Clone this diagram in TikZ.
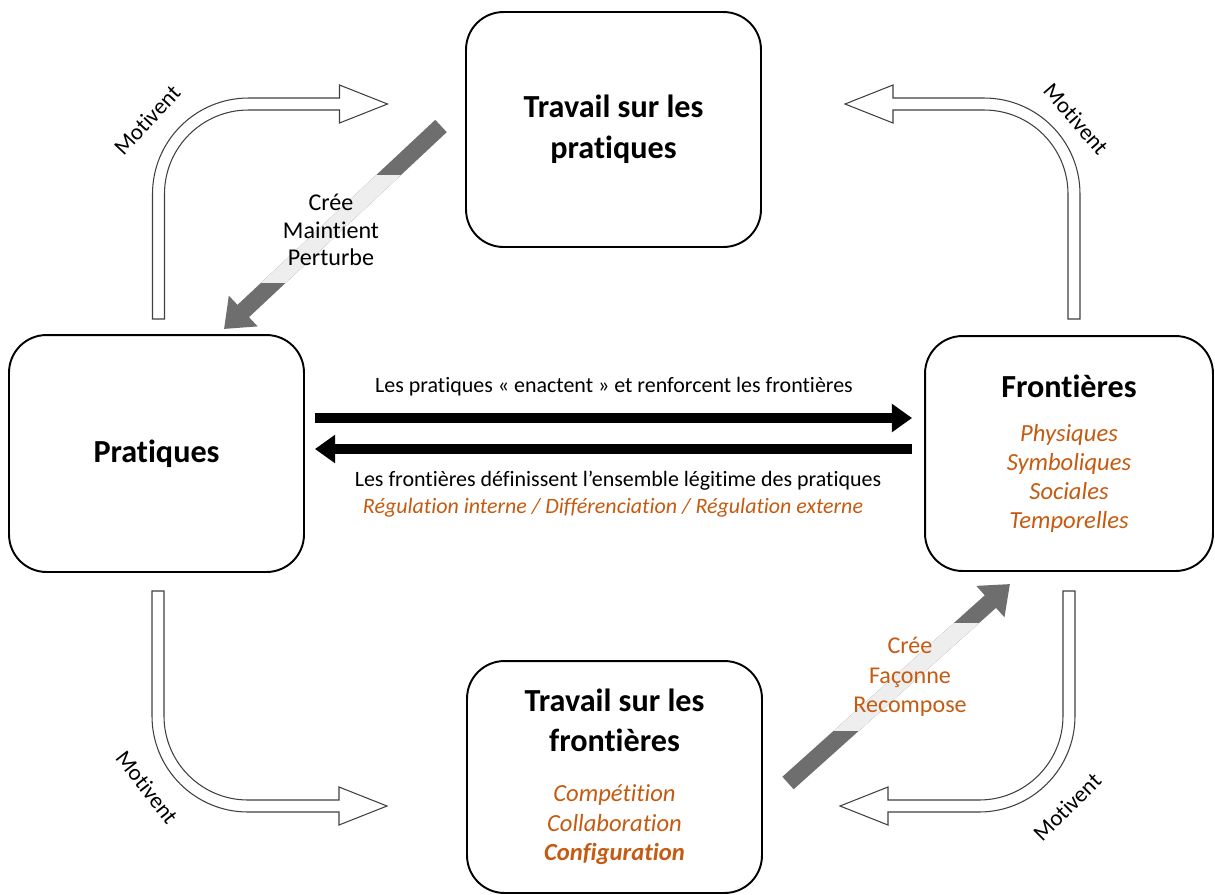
\documentclass[tikz,border=0pt]{standalone}
\usepackage{fontspec}
\setmainfont{Carlito}[Ligatures=NoCommon]
\usetikzlibrary{arrows.meta,positioning}
\definecolor{orangetxt}{HTML}{C55A11}
\definecolor{grisfonce}{HTML}{6E6E6E}
\definecolor{grisclair}{HTML}{EEEEEE}
\lineskiplimit=-\maxdimen
\newcommand{\titre}[1]{{\fontsize{18.3}{22}\selectfont\bfseries #1}}
\newcommand{\elem}[1]{\textcolor{orangetxt}{\itshape #1}}

\tikzset{
  bloc/.style={draw, line width=1.1pt, rounded corners=0.75cm, align=center,
    inner sep=0pt, font=\fontsize{14}{16.6}\selectfont},
  contour/.style={draw=black!75, line width=0.6pt, fill=white},
  fleche/.style={line width=5.7pt, -{Triangle[length=11.5pt,width=15.5pt]}},
  grosse/.style={line width=9.6pt, -{Triangle[length=15pt,width=23pt]}},
  corps/.style={font=\fontsize{12.5}{15}\selectfont},
  motiv/.style={font=\fontsize{13}{15}\selectfont, inner sep=1pt},
  legende/.style={align=center, font=\fontsize{13.7}{15.8}\selectfont},
  coude/.pic={
    \draw[contour] (-6,215) -- (-6,90) .. controls (-6,37) and (37,-6) .. (90,-6)
      -- (181,-6) -- (181,-19) -- (229,0) -- (181,19) -- (181,6) -- (90,6)
      .. controls (43.6,6) and (6,43.6) .. (6,90) -- (6,215) -- cycle;
  }
}

\begin{document}
\begin{tikzpicture}[x=0.02cm, y=-0.02cm]
\useasboundingbox (0,0) rectangle (1215,894);

% Les quatre blocs
\node[bloc, minimum width=5.9cm, minimum height=4.7cm] (haut) at (613.5,129.5)
  {\titre{Travail sur les}\\[6.6pt]\titre{pratiques}};
\node[bloc, minimum width=5.9cm, minimum height=4.74cm] (prat) at (156.5,453.5)
  {\titre{Pratiques}};
\node[bloc, minimum width=5.76cm, minimum height=4.7cm] (front) at (1069,453.5)
  {\titre{Frontières}\\[8.4pt]\elem{Physiques}\\\elem{Symboliques}\\\elem{Sociales}\\\elem{Temporelles}};
\node[bloc, minimum width=5.9cm, minimum height=4.64cm] (bas) at (614.5,777)
  {\titre{Travail sur les}\\[6.1pt]\titre{frontières}\\[11.7pt]\elem{Compétition}\\[0.4pt]
   \elem{Collaboration}\\[0.4pt]\elem{\bfseries Configuration}};

% Fleches noires entre pratiques et frontieres
\draw[fleche] ([shift={(0.2cm,0.71cm)}]prat.east) -- ([shift={(-0.24cm,0.71cm)}]front.west);
\draw[fleche] ([shift={(-0.24cm,0.09cm)}]front.west) -- ([shift={(0.2cm,0.09cm)}]prat.east);
\node[corps] (enact) at (614,387) {Les pratiques « enactent » et renforcent les frontières};
\node[corps] (legit) at (618,481) {Les frontières définissent l’ensemble légitime des pratiques};
\node[corps, text=orangetxt, font=\fontsize{12.5}{15}\selectfont\itshape] (regul) at (613,508)
  {Régulation interne / Différenciation / Régulation externe};

% Fleches creuses "Motivent"
\pic at (158.5,104) {coude};
\pic[xscale=-1] at (1074,104) {coude};
\pic[yscale=-1] at (158,806) {coude};
\pic[xscale=-1, yscale=-1] at (1069,806) {coude};
\node[motiv, rotate=47] (mot-hg) at (147,120) {Motivent};
\node[motiv, rotate=-49] (mot-hd) at (1076,119) {Motivent};
\node[motiv, rotate=-52] (mot-bg) at (147,787) {Motivent};
\node[motiv, rotate=45] (mot-bd) at (1067,807) {Motivent};

% Fleches grises
\coordinate (pra-a) at (441,126);
\coordinate (pra-b) at (224,329);
\coordinate (fro-a) at (788,783);
\coordinate (fro-b) at (1010,584);
\draw[grosse, grisfonce] (pra-a) -- (pra-b);
\draw[grosse, grisfonce] (fro-a) -- (fro-b);
\begin{scope}
  \clip (0,175) rectangle (1215,282);
  \draw[grosse, grisclair] (pra-a) -- (pra-b);
\end{scope}
\begin{scope}
  \clip (0,623) rectangle (1215,730);
  \draw[grosse, grisclair] (fro-a) -- (fro-b);
\end{scope}
\node[legende] (agit) at (331,230) {Crée\\Maintient\\Perturbe};
\node[legende, text=orangetxt, font=\fontsize{13.7}{16.8}\selectfont] (faco) at (910,677)
  {Crée\\Façonne\\Recompose};
\end{tikzpicture}
\end{document}
